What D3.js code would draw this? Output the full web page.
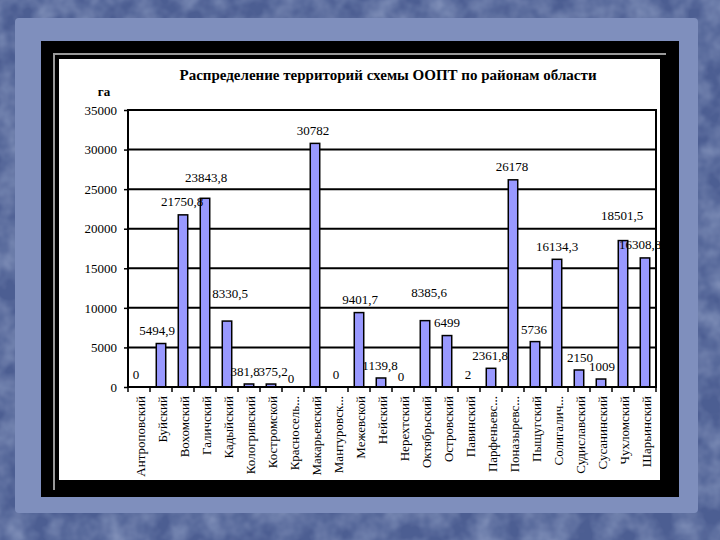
<!DOCTYPE html>
<html lang="ru">
<head>
    <meta charset="UTF-8">
    <title>Распределение территорий схемы ООПТ</title>
    <script src="https://d3js.org/d3.v7.min.js"></script>
    <style>
        body { margin: 0; background: #4c5e92; }
        svg text { font-family: "Liberation Serif", "Times New Roman", serif !important; }
    </style>
</head>
<body>
<script>
    // districts and protected-area totals (ha)
    const districts = ["Антроповский", "Буйский", "Вохомский", "Галичский", "Кадыйский", "Кологривский",
        "Костромской", "Красносель...", "Макарьевский", "Мантуровск...", "Межевской", "Нейский",
        "Нерехтский", "Октябрьский", "Островский", "Павинский", "Парфеньевс...", "Поназыревс...",
        "Пыщугский", "Солигалич...", "Судиславский", "Сусанинский", "Чухломский", "Шарьинский"]
    const areas = [0, 5494.9, 21750.8, 23843.8, 8330.5, 381.8, 375.2, 0, 30782, 0, 9401.7, 1139.8,
        0, 8385.6, 6499, 2, 2361.8, 26178, 5736, 16134.3, 2150, 1009, 18501.5, 16308.8]
    const yTicks = [0, 5000, 10000, 15000, 20000, 25000, 30000, 35000]

    // hand-moved data labels in the original (px shift from default spot)
    const labelDx = [-3, -4, -1, 1, 3, -4, 2, -2, -2, -1, 1, -1, -2, 4, 0, -1, -1, -1, -1, 0, 1, 1, -1, -5]
    const labelDy = [0, 0, 0, -8, -15, 0, 0, 4, 0, 0, 0, 0, 2, -15, 0, 0, 0, 0, 1, 0, 0, 0, -12, 0]

    const W = 720, H = 540
    const svg = d3.select("body").append("svg")
        .attr("width", W)
        .attr("height", H)
        .attr("font-family", "Liberation Serif")

    // slide background
    const defs = svg.append("defs")
    const f = defs.append("filter").attr("id", "paper")
    f.append("feTurbulence").attr("type", "fractalNoise").attr("baseFrequency", 0.04).attr("numOctaves", 3).attr("result", "n")
    f.append("feColorMatrix").attr("in", "n").attr("type", "matrix")
        .attr("values", "0 0 0 0 0.3  0 0 0 0 0.37  0 0 0 0 0.58  0 0 0 1.2 -0.35")
        .attr("result", "c")
    f.append("feComposite").attr("in", "c").attr("in2", "SourceGraphic").attr("operator", "in")

    svg.append("rect").attr("width", W).attr("height", H).attr("fill", "#4c5e92")
    svg.append("rect").attr("width", W).attr("height", H).attr("fill", "#4c5e92").attr("filter", "url(#paper)")
    svg.append("rect")
        .attr("x", 15).attr("y", 18).attr("width", 683).attr("height", 495)
        .attr("rx", 4)
        .attr("fill", "#7f8fbd")
    svg.append("rect")
        .attr("x", 41).attr("y", 41).attr("width", 638).attr("height", 456)
        .attr("fill", "#000")
    svg.append("path")
        .attr("d", "M54,490 V54 H666")
        .attr("fill", "none")
        .attr("stroke", "#9a9a9a")
        .attr("stroke-width", 2)
    svg.append("rect")
        .attr("x", 59).attr("y", 59).attr("width", 601).attr("height", 421)
        .attr("fill", "#fff")

    defs.append("clipPath").attr("id", "paperClip")
        .append("rect").attr("x", 59).attr("y", 59).attr("width", 601).attr("height", 421)

    const chart = svg.append("g").attr("clip-path", "url(#paperClip)")

    const plotLeft = 128, plotRight = 656, plotTop = 110, plotBottom = 387

    const x = d3.scaleBand()
        .domain(districts)
        .range([plotLeft, plotRight])

    const y = d3.scaleLinear()
        .domain([0, 35000])
        .range([plotBottom, plotTop])

    chart.append("text")
        .attr("x", 388)
        .attr("y", 80)
        .attr("text-anchor", "middle")
        .attr("font-size", 15)
        .attr("font-weight", "bold")
        .text("Распределение территорий схемы ООПТ по районам области")

    chart.append("text")
        .attr("x", 104)
        .attr("y", 96)
        .attr("text-anchor", "middle")
        .attr("font-size", 13)
        .attr("font-weight", "bold")
        .text("га")

    // gridlines
    chart.append("g")
        .selectAll("line")
        .data(yTicks)
        .join("line")
        .attr("x1", plotLeft)
        .attr("x2", plotRight)
        .attr("y1", d => y(d))
        .attr("y2", d => y(d))
        .attr("stroke", "#000")
        .attr("stroke-width", 2)

    const yAxis = chart.append("g")
        .attr("transform", `translate(${plotLeft},0)`)
        .call(d3.axisLeft(y).tickValues(yTicks).tickSize(4).tickSizeOuter(0).tickFormat(d3.format("d")))
    yAxis.attr("font-family", null).attr("font-size", null)
    yAxis.select(".domain").remove()
    yAxis.selectAll("line").attr("stroke-width", 1.5)
    yAxis.selectAll("text")
        .attr("font-size", 13)
        .attr("fill", "#000")
        .attr("dx", -4)

    // ticks between categories
    chart.append("g")
        .selectAll("line")
        .data(districts.concat([null]))
        .join("line")
        .attr("x1", (d, i) => plotLeft + i * x.step())
        .attr("x2", (d, i) => plotLeft + i * x.step())
        .attr("y1", plotBottom)
        .attr("y2", plotBottom + 5)
        .attr("stroke", "#000")
        .attr("stroke-width", 1.5)

    chart.append("g")
        .selectAll("text")
        .data(districts)
        .join("text")
        .attr("transform", d => `translate(${x(d) + x.bandwidth() / 2 + 1},${plotBottom + 9}) rotate(-90)`)
        .attr("text-anchor", "end")
        .attr("dy", "0.35em")
        .attr("font-size", 13)
        .text(d => d)

    // bars
    const barW = x.bandwidth() * 0.43
    chart.append("g")
        .selectAll("rect")
        .data(areas)
        .join("rect")
        .attr("x", (d, i) => x(districts[i]) + x.bandwidth() / 2 - barW / 2)
        .attr("y", d => y(d))
        .attr("width", barW)
        .attr("height", d => plotBottom - y(d))
        .attr("fill", "#9999ff")
        .attr("stroke", "#000")
        .attr("stroke-width", 1.5)
        .style("display", d => d > 10 ? null : "none")

    // plot frame
    chart.append("path")
        .attr("d", `M${plotLeft},${plotBottom} V${plotTop} H${plotRight} V${plotBottom} H${plotLeft}`)
        .attr("fill", "none")
        .attr("stroke", "#000")
        .attr("stroke-width", 2)

    // data labels
    const fmt = v => String(v).replace(".", ",")
    chart.append("g")
        .selectAll("text")
        .data(areas)
        .join("text")
        .attr("x", (d, i) => x(districts[i]) + x.bandwidth() / 2 + labelDx[i])
        .attr("y", (d, i) => y(d) - 13 + labelDy[i])
        .attr("dy", "0.35em")
        .attr("text-anchor", "middle")
        .attr("font-size", 13)
        .text(fmt)
</script>
</body>
</html>
